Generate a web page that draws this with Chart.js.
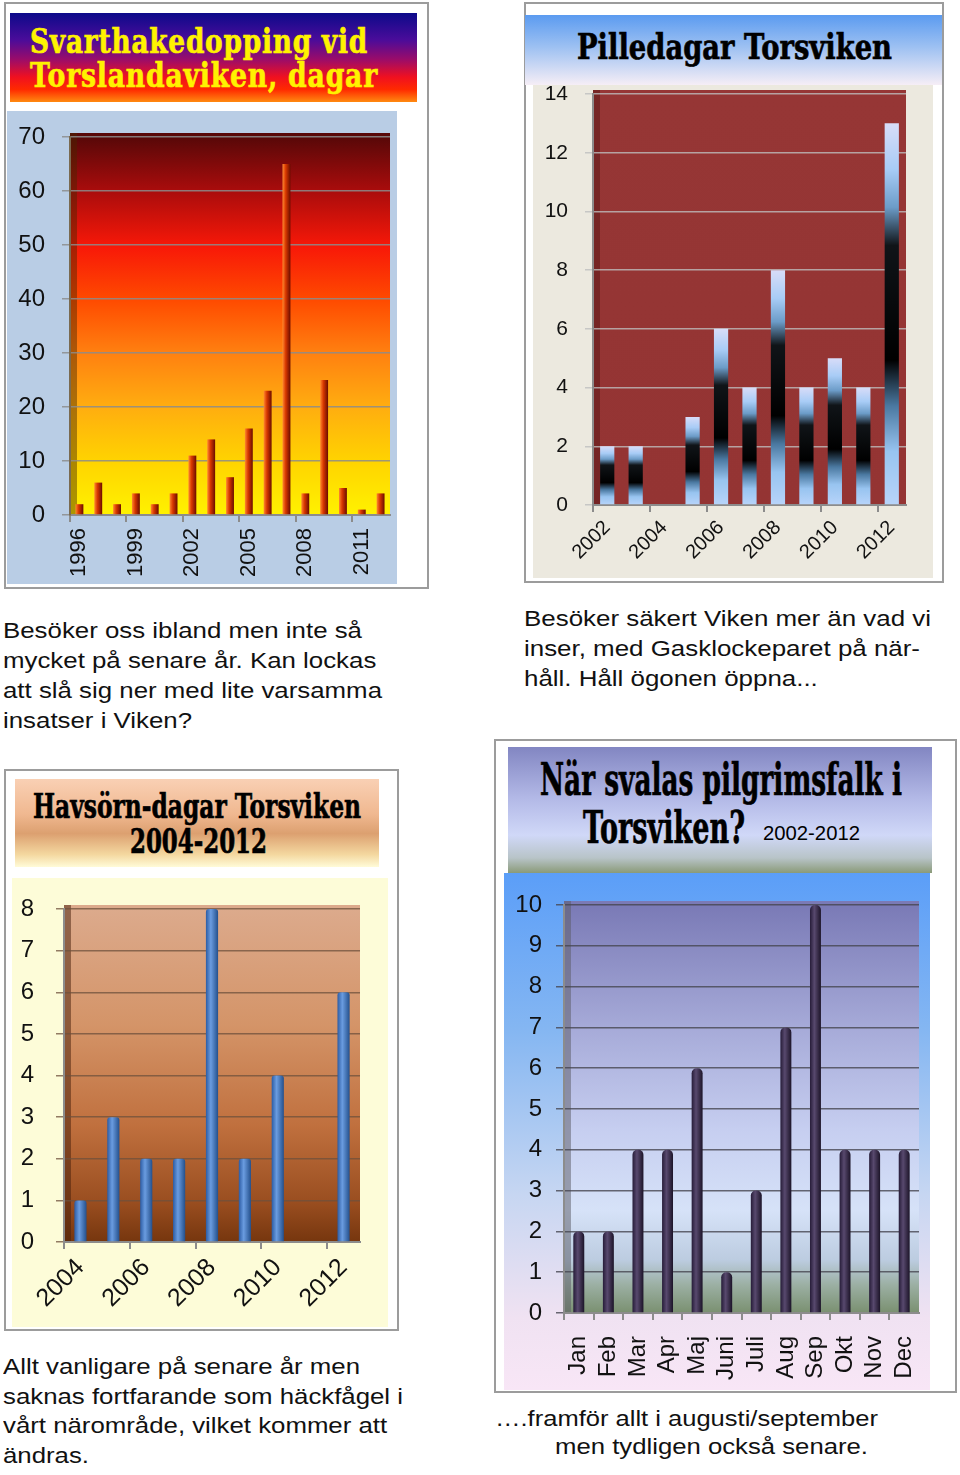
<!DOCTYPE html>
<html lang="sv">
<head>
<meta charset="utf-8">
<title>Fåglar i Torsviken</title>
<script src="https://cdn.jsdelivr.net/npm/chart.js@4.4.1/dist/chart.umd.min.js"></script>
<style>
body { margin: 0; background: #fff; width: 960px; height: 1475px; position: relative; overflow: hidden; font-family: "Liberation Sans", Arial, sans-serif; }
.box { position: absolute; border: 2px solid #9c9c9c; box-sizing: border-box; }
.pane { position: absolute; }
.cv { position: absolute; }
.tl { position: absolute; white-space: nowrap; line-height: 1; font-family: "DejaVu Serif", serif; font-weight: bold; color: #000; transform-origin: 0 0; -webkit-text-stroke: 0.7px currentColor; }
.txt { position: absolute; white-space: nowrap; font-size: 22px; line-height: 30px; color: #111; transform-origin: 0 0; }
</style>
</head>
<body>

<!-- panel 1 -->
<div class="box" style="left:4px;top:2px;width:425px;height:587px"></div>
<div class="pane" style="left:10px;top:13px;width:407px;height:89px;background:linear-gradient(to bottom,#0c0a8a 0%,#4a0c9a 30%,#9a0c6a 52%,#f01020 72%,#ff2a00 86%,#ff8a10 100%)"></div>
<div class="pane" style="left:7px;top:111px;width:390px;height:473px;background:#b9cde5"></div>
<canvas id="svartChart" class="cv" width="390" height="473" style="left:7px;top:111px"></canvas>
<div class="tl fit" data-w="338" style="left:30px;top:24px;font-size:34px;color:#fff200;letter-spacing:1px">Svarthakedopping vid</div>
<div class="tl fit" data-w="348" style="left:30px;top:58px;font-size:34px;color:#fff200;letter-spacing:1px">Torslandaviken, dagar</div>

<!-- panel 2 -->
<div class="box" style="left:524px;top:2px;width:420px;height:581px"></div>
<div class="pane" style="left:525px;top:15px;width:417px;height:70px;background:linear-gradient(to bottom,#5b9bf0 0%,#9cc0f2 45%,#f6eef6 100%)"></div>
<div class="pane" style="left:533px;top:85px;width:400px;height:493px;background:#ece9df"></div>
<canvas id="pilleChart" class="cv" width="400" height="500" style="left:533px;top:78px"></canvas>
<div class="tl fit" data-w="315" style="left:577px;top:28px;font-size:36px">Pilledagar Torsviken</div>

<!-- panel 3 -->
<div class="box" style="left:4px;top:769px;width:395px;height:562px"></div>
<div class="pane" style="left:15px;top:779px;width:364px;height:88px;background:linear-gradient(to bottom,#f9d0b4 0%,#f0b890 40%,#dca070 62%,#f4d8a0 86%,#fffbd8 100%)"></div>
<div class="pane" style="left:12px;top:878px;width:376px;height:449px;background:#fdfcd8"></div>
<canvas id="havsornChart" class="cv" width="376" height="449" style="left:12px;top:878px"></canvas>
<div class="tl fit" data-w="328" style="left:33px;top:790px;font-size:33px">Havsörn-dagar Torsviken</div>
<div class="tl fit" data-w="137" style="left:130px;top:825px;font-size:33px">2004-2012</div>

<!-- panel 4 -->
<div class="box" style="left:494px;top:739px;width:463px;height:654px"></div>
<div class="pane" style="left:508px;top:747px;width:424px;height:126px;background:linear-gradient(to bottom,#8286c2 0%,#b2b8e6 40%,#d0d8f8 70%,#b8c4c8 88%,#8a9a78 100%)"></div>
<div class="pane" style="left:504px;top:873px;width:426px;height:517px;background:linear-gradient(to bottom,#5b9ef8 0%,#84b6f2 30%,#c6d6f2 62%,#f0e2f2 86%,#f8e6f6 100%)"></div>
<canvas id="falkChart" class="cv" width="426" height="517" style="left:504px;top:873px"></canvas>
<div class="tl fit" data-w="362" style="left:540px;top:758px;font-size:44px">När svalas pilgrimsfalk i</div>
<div class="tl fit" data-w="162" style="left:583px;top:806px;font-size:44px">Torsviken?</div>
<div class="tl fit" data-w="97" style="left:763px;top:823px;font-size:20px;font-family:'Liberation Sans',Arial,sans-serif;font-weight:normal;-webkit-text-stroke:0">2002-2012</div>

<!-- texter -->
<div class="txt fit" data-w="379" style="left:3px;top:616px">Besöker oss ibland men inte så<br>mycket på senare år. Kan lockas<br>att slå sig ner med lite varsamma<br>insatser i Viken?</div>
<div class="txt fit" data-w="407" style="left:524px;top:604px">Besöker säkert Viken mer än vad vi<br>inser, med Gasklockeparet på när-<br>håll. Håll ögonen öppna...</div>
<div class="txt fit" data-w="400" style="left:3px;top:1352px;line-height:29.5px">Allt vanligare på senare år men<br>saknas fortfarande som häckfågel i<br>vårt närområde, vilket kommer att<br>ändras.</div>
<div class="txt fit" data-w="383" style="left:495px;top:1404px">….framför allt i augusti/september</div>
<div class="txt fit" data-w="313" style="left:555px;top:1432px">men tydligen också senare.</div>

<script>
// Svarthakedopping vid Torslandaviken, dagar per år
const svartYears = ['1996','1997','1998','1999','2000','2001','2002','2003','2004','2005','2006','2007','2008','2009','2010','2011','2012'];
const svartDays = [2, 6, 2, 4, 2, 4, 11, 14, 7, 16, 23, 65, 4, 25, 5, 1, 4];
const svartTicks = [0, 10, 20, 30, 40, 50, 60, 70];

// Pilledagar Torsviken
const pilleYears = ['2002','2003','2004','2005','2006','2007','2008','2009','2010','2011','2012'];
const pilleDays = [2, 2, 0, 3, 6, 4, 8, 4, 5, 4, 13];
const pilleTicks = [0, 2, 4, 6, 8, 10, 12, 14];

// Havsörn-dagar Torsviken 2004-2012
const havsornYears = ['2004','2005','2006','2007','2008','2009','2010','2011','2012'];
const havsornDays = [1, 3, 2, 2, 8, 2, 4, 0, 6];
const havsornTicks = [0, 1, 2, 3, 4, 5, 6, 7, 8];

// pilgrimsfalk per månad 2002-2012
const months = ['Jan','Feb','Mar','Apr','Maj','Juni','Juli','Aug','Sep','Okt','Nov','Dec'];
const falkDays = [2, 2, 4, 4, 6, 1, 3, 7, 10, 4, 4, 4];
const falkTicks = [0, 1, 2, 3, 4, 5, 6, 7, 8, 9, 10];

// squeeze/stretch the text so it takes the same width as in the original
document.querySelectorAll('.fit').forEach(function (el) {
    const w = el.getBoundingClientRect().width;
    el.style.transform = 'scaleX(' + (el.dataset.w / w) + ')';
});

// paints the plot area (and a thin side wall) before the grid and bars
const plotBg = {
    id: 'plotBg',
    beforeDraw(chart, args, opts) {
        const ctx = chart.ctx;
        const a = chart.chartArea;
        const g = ctx.createLinearGradient(0, a.top, 0, a.bottom);
        opts.stops.forEach(s => g.addColorStop(s[0], s[1]));
        ctx.save();
        ctx.fillStyle = g;
        ctx.fillRect(a.left, a.top - 4, a.width, a.height + 4);
        if (opts.wall) {
            ctx.fillStyle = opts.wall;
            ctx.fillRect(a.left, a.top - 4, 7, a.height + 4);
        }
        ctx.restore();
    }
};

// horizontal shading across a bar, looks like a round column
function columnShade(cols, pct) {
    return function (c) {
        const chart = c.chart;
        if (!chart.chartArea) return cols[1];
        const xs = chart.scales.x;
        const x = xs.getPixelForValue(c.dataIndex);
        const half = xs.width / chart.data.labels.length * pct / 2;
        const g = chart.ctx.createLinearGradient(x - half, 0, x + half, 0);
        g.addColorStop(0, cols[0]);
        g.addColorStop(0.4, cols[1]);
        g.addColorStop(1, cols[2]);
        return g;
    };
}

// the odd blue/black/blue bars of the pille chart
function pilleShade(c) {
    const chart = c.chart;
    if (!chart.chartArea) return '#a8c8f4';
    const ys = chart.scales.y;
    const top = ys.getPixelForValue(c.raw);
    const bottom = ys.getPixelForValue(0);
    if (bottom - top < 1) return '#a8c8f4';
    const g = chart.ctx.createLinearGradient(0, top, 0, bottom);
    g.addColorStop(0, '#d8dcf8');
    g.addColorStop(0.12, '#a8ccf6');
    g.addColorStop(0.22, '#6c9cc8');
    g.addColorStop(0.32, '#101418');
    g.addColorStop(0.62, '#000000');
    g.addColorStop(0.74, '#4a78a0');
    g.addColorStop(0.86, '#98c4f0');
    g.addColorStop(1, '#b8d4fa');
    return g;
}

function barChart(id, labels, values, yTicks, cfg) {
    const ctx = document.getElementById(id).getContext('2d');
    const font = { family: '"Liberation Sans", Arial, sans-serif', size: cfg.fontSize };
    const xFont = { family: '"Liberation Sans", Arial, sans-serif', size: cfg.xFontSize || cfg.fontSize };
    return new Chart(ctx, {
        type: 'bar',
        data: {
            labels: labels,
            datasets: [{
                data: values,
                backgroundColor: cfg.barColor,
                borderRadius: cfg.radius || 0,
                borderSkipped: 'bottom',
                barPercentage: cfg.barPct,
                categoryPercentage: 1
            }]
        },
        options: {
            responsive: false,
            animation: false,
            events: [],
            layout: { padding: cfg.padding },
            plugins: {
                legend: { display: false },
                tooltip: { enabled: false },
                plotBg: { stops: cfg.bg, wall: cfg.wall }
            },
            scales: {
                x: {
                    grid: {
                        offset: true,
                        drawOnChartArea: false,
                        tickLength: 7,
                        lineWidth: 2,
                        color: (t) => t.index % cfg.every === 0 ? '#8c8c8c' : 'rgba(0,0,0,0)'
                    },
                    border: { color: '#8c8c8c', width: 2 },
                    ticks: {
                        autoSkip: false,
                        maxRotation: cfg.rot,
                        minRotation: cfg.rot,
                        padding: cfg.xPad,
                        color: '#111',
                        font: xFont,
                        callback: (v, i) => i % cfg.every === 0 ? labels[i] : ''
                    },
                    afterFit: (s) => { s.height = cfg.xHeight; s.paddingLeft = 0; s.paddingRight = 0; }
                },
                y: {
                    min: yTicks[0],
                    max: yTicks[yTicks.length - 1],
                    ticks: { stepSize: yTicks[1] - yTicks[0], padding: cfg.yPad, color: '#111', font: font },
                    grid: { color: cfg.gridColor, lineWidth: 1.5, tickLength: 8 },
                    border: { color: cfg.borderColor, width: 2 },
                    afterFit: (s) => { s.width = cfg.yWidth; s.paddingTop = 0; s.paddingBottom = 0; }
                }
            }
        },
        plugins: [plotBg]
    });
}

barChart('svartChart', svartYears, svartDays, svartTicks, {
    fontSize: 24, xFontSize: 22, every: 3, rot: 90, xPad: 6, yPad: 17,
    barPct: 0.42, barColor: columnShade(['#ff8a30', '#d83800', '#6a0c00'], 0.42),
    padding: { top: 26, right: 7, left: 0, bottom: 0 }, yWidth: 63, xHeight: 69,
    gridColor: 'rgba(140,140,140,0.85)', borderColor: '#7a6a50', wall: 'rgba(70,40,0,0.45)',
    bg: [[0, '#580808'], [0.14, '#a80c0c'], [0.29, '#f81808'], [0.43, '#ff4a00'], [0.57, '#ff8010'], [0.71, '#ffac10'], [0.86, '#ffd400'], [1, '#fff200']]
});

barChart('pilleChart', pilleYears, pilleDays, pilleTicks, {
    fontSize: 21, xFontSize: 20, every: 2, rot: 45, xPad: 4, yPad: 17,
    barPct: 0.5, barColor: pilleShade,
    padding: { top: 16, right: 27, left: 0, bottom: 0 }, yWidth: 60, xHeight: 73,
    gridColor: 'rgba(190,190,190,0.8)', borderColor: '#8c8c8c', wall: 'rgba(60,10,10,0.35)',
    bg: [[0, '#963635'], [1, '#943433']]
});

barChart('havsornChart', havsornYears, havsornDays, havsornTicks, {
    fontSize: 24, xFontSize: 25, every: 2, rot: 45, xPad: 4, yPad: 22,
    barPct: 0.37, barColor: columnShade(['#2c5ca4', '#6a9ce0', '#24508c'], 0.37), radius: 3,
    padding: { top: 31, right: 28, left: 0, bottom: 0 }, yWidth: 52, xHeight: 85,
    gridColor: 'rgba(110,80,60,0.75)', borderColor: '#8c8c8c', wall: 'rgba(70,30,10,0.5)',
    bg: [[0, '#dcaa8c'], [0.35, '#d49468'], [0.65, '#c0703e'], [0.88, '#9a4e20'], [1, '#76360e']]
});

barChart('falkChart', months, falkDays, falkTicks, {
    fontSize: 24, xFontSize: 24, every: 1, rot: 90, xPad: 16, yPad: 14,
    barPct: 0.37, barColor: columnShade(['#261c38', '#58496e', '#1c1428'], 0.37), radius: 5,
    padding: { top: 32, right: 11, left: 0, bottom: 0 }, yWidth: 60, xHeight: 77,
    gridColor: 'rgba(70,70,80,0.8)', borderColor: '#8c8c8c', wall: 'rgba(90,90,100,0.5)',
    bg: [[0, '#7a7ab6'], [0.3, '#a6aad8'], [0.55, '#c6cef0'], [0.75, '#d6e2f8'], [0.87, '#bccce0'], [0.93, '#9cb0a4'], [1, '#7a9070']]
});
</script>
</body>
</html>
